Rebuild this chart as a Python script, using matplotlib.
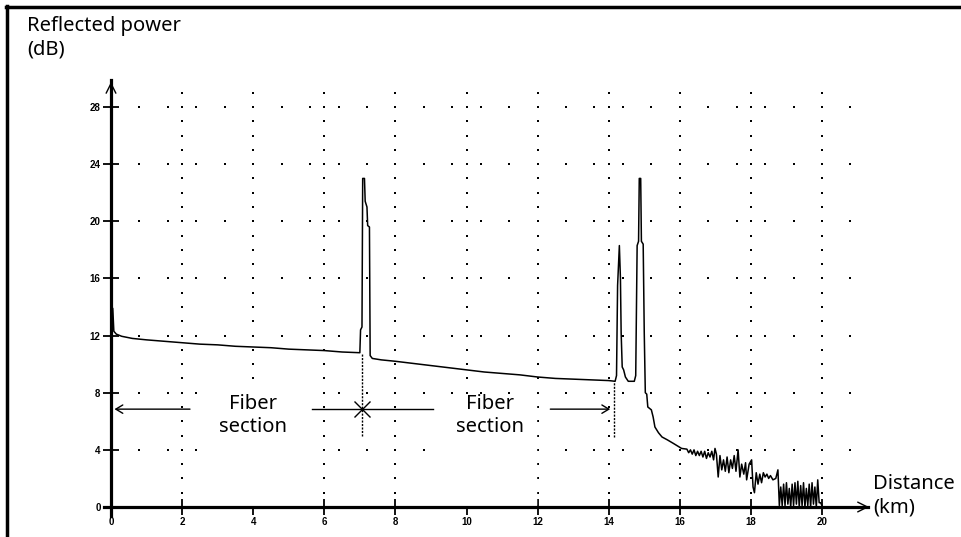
import numpy as np
import matplotlib
matplotlib.use('Agg')
import matplotlib.pyplot as plt
from matplotlib.lines import Line2D
from matplotlib.patches import Rectangle

# OTDR trace (km, dB)
dist = [0.0, 0.01, 0.05, 0.08, 0.15, 0.3, 0.6, 1.0, 1.5, 2.0, 2.5, 3.0, 3.5, 4.0, 4.5,
        5.0, 5.5, 6.0, 6.5, 6.95, 7.0,
        7.02, 7.06, 7.08, 7.13, 7.15, 7.2, 7.22, 7.27, 7.29, 7.35, 7.6, 8.0, 8.5, 9.0,
        9.5, 10.0, 10.5, 11.0, 11.5, 12.0, 12.5, 13.0, 13.5, 14.0, 14.18,
        14.22, 14.25, 14.3, 14.33, 14.35, 14.38, 14.42, 14.47, 14.55, 14.72, 14.76,
        14.8, 14.84, 14.86, 14.9, 14.92, 14.97, 15.0, 15.03,
        15.07, 15.1, 15.2, 15.25, 15.3, 15.4, 15.5, 15.65, 15.82, 16.05, 16.2, 16.25,
        16.3, 16.35, 16.4, 16.45, 16.5, 16.55, 16.6, 16.65, 16.7, 16.75, 16.8, 16.85,
        16.9, 16.95, 16.99, 17.03, 17.08, 17.13, 17.18, 17.23, 17.28, 17.33, 17.38,
        17.43, 17.48, 17.53, 17.58, 17.64, 17.69, 17.74, 17.8, 17.85, 17.88, 17.95,
        18.02, 18.06, 18.1, 18.15, 18.2, 18.25, 18.3, 18.35, 18.4, 18.45, 18.5, 18.55,
        18.62, 18.7, 18.76, 18.8, 18.84, 18.88, 18.92, 18.96, 19.0, 19.04, 19.08,
        19.12, 19.16, 19.2, 19.24, 19.28, 19.32, 19.36, 19.4, 19.44, 19.48, 19.52,
        19.56, 19.6, 19.64, 19.68, 19.72, 19.76, 19.8, 19.84, 19.88, 19.92, 19.96, 20.0]
power = [18.7, 14.0, 13.9, 12.3, 12.1, 11.95, 11.8, 11.7, 11.6, 11.5, 11.4, 11.35, 11.25, 11.2, 11.15,
         11.05, 11.0, 10.95, 10.85, 10.8, 10.8,
         12.4, 12.6, 23.0, 23.0, 21.4, 21.0, 19.7, 19.6, 10.6, 10.4, 10.3, 10.2, 10.05, 9.9,
         9.75, 9.6, 9.45, 9.35, 9.25, 9.1, 9.0, 8.95, 8.9, 8.85, 8.8,
         9.2, 15.5, 18.3, 16.0, 12.2, 9.8, 9.6, 9.1, 8.8, 8.8, 9.2,
         18.3, 18.6, 23.0, 23.0, 18.6, 18.4, 12.2, 8.0,
         7.9, 7.0, 6.8, 6.3, 5.6, 5.2, 4.9, 4.7, 4.45, 4.1, 4.05, 3.8,
         4.0, 3.7, 4.0, 3.6, 3.9, 3.6, 3.9, 3.5, 3.9, 3.4, 3.8, 3.5,
         3.9, 3.3, 4.1, 3.7, 2.1, 3.6, 2.6, 3.3, 2.5, 3.5, 2.4,
         3.3, 2.7, 3.6, 2.5, 4.0, 2.1, 3.0, 2.3, 3.1, 1.9, 3.0,
         3.3, 1.4, 1.0, 2.4, 1.6, 2.3, 1.7, 2.4, 2.1, 2.3, 2.0, 2.2,
         1.9, 2.0, 2.6, 0.1, 1.4, 0.1, 1.6, 0.1, 1.7, 0.2, 1.3,
         0.0, 1.6, 0.1, 1.7, 0.2, 1.8, 0.0, 1.5, 0.1, 1.7, 0.0,
         1.3, 0.1, 1.6, 0.0, 1.7, 0.2, 1.4, 0.0, 1.9, 0.3, 0.3, 0.1]

xticks = [0, 2, 4, 6, 8, 10, 12, 14, 16, 18, 20]
yticks = [0, 4, 8, 12, 16, 20, 24, 28]
section_label = 'Fiber\nsection'
event_1 = 7.05
event_2 = 14.15

W, H = 962, 537
fig = plt.figure(figsize=(W / 100, H / 100), dpi=100)
ax = fig.add_axes([111 / W, 30 / H, 711 / W, 400 / H])
ax.set_xlim(0, 20)
ax.set_ylim(0, 28)
for s in ax.spines.values():
    s.set_visible(False)

# dotted grid
gx, gy = np.meshgrid(np.arange(2, 21, 2), np.arange(0, 30, 1))
ax.scatter(gx.ravel(), gy.ravel(), s=2.2, marker='s', color='black', lw=0, clip_on=False, zorder=1)
hx, hy = np.meshgrid(np.arange(0.8, 21.0, 0.8), np.arange(4, 29, 4))
ax.scatter(hx.ravel(), hy.ravel(), s=2.2, marker='s', color='black', lw=0, clip_on=False, zorder=1)

# white areas behind the labels
ax.add_patch(Rectangle((2.5, 0.15), 3.1, 8.2, color='white', zorder=2))
ax.add_patch(Rectangle((9.1, 0.15), 2.85, 7.6, color='white', zorder=2))

# axes with open arrow heads
ax.plot([0, 0], [-0.6, 29.9], color='black', lw=2.3, clip_on=False, zorder=5)
ax.plot([-0.2, 21.3], [0, 0], color='black', lw=2.3, clip_on=False, zorder=5)
ax.annotate('', xy=(0, 29.95), xytext=(0, 28.5),
            arrowprops=dict(arrowstyle='->,head_length=0.7,head_width=0.35', lw=1, color='black'),
            annotation_clip=False, zorder=5)
ax.annotate('', xy=(21.4, 0), xytext=(20.5, 0),
            arrowprops=dict(arrowstyle='->,head_length=0.7,head_width=0.35', lw=1, color='black'),
            annotation_clip=False, zorder=5)

ax.set_xticks(xticks)
ax.set_yticks(yticks)
ax.tick_params(direction='inout', length=11, width=1.3, labelsize=7, pad=2)
for lab in ax.get_xticklabels() + ax.get_yticklabels():
    lab.set_family('Liberation Sans')
    lab.set_fontweight('bold')

# trace
ax.plot(dist, power, color='black', lw=1.1, zorder=4, clip_on=False)

# section markers
ax.plot([event_1, event_1], [5.0, 10.8], color='black', lw=1, ls=(0, (1.5, 1)), zorder=4)
ax.plot([event_2, event_2], [4.9, 8.8], color='black', lw=1, ls=(0, (1.5, 1)), zorder=4)
ax.annotate('', xy=(0.02, 6.85), xytext=(2.3, 6.85),
            arrowprops=dict(arrowstyle='->,head_length=0.5,head_width=0.3', lw=1, color='black'), zorder=4)
ax.plot([5.65, 9.05], [6.85, 6.85], color='black', lw=1, zorder=4)
ax.plot([event_1], [6.85], marker='x', ms=12, mew=1, color='black', zorder=4)
ax.annotate('', xy=(event_2 - 0.03, 6.85), xytext=(12.28, 6.85),
            arrowprops=dict(arrowstyle='->,head_length=0.5,head_width=0.3', lw=1, color='black'), zorder=4)

tfont = dict(family=['Noto Sans', 'DejaVu Sans'], fontsize=14.5, color='black')
ax.text(4.0, 6.4, section_label, ha='center', va='center', linespacing=1.25, zorder=6, **tfont)
ax.text(10.65, 6.4, section_label, ha='center', va='center', linespacing=1.25, zorder=6, **tfont)

fig.text(27 / W, 1 - 16 / H, 'Reflected power\n(dB)', ha='left', va='top', linespacing=1.25, **tfont)
fig.text(873 / W, 1 - 474 / H, 'Distance\n(km)', ha='left', va='top', linespacing=1.25, **tfont)

# frame of the figure box
fig.add_artist(Line2D([7 / W, 7 / W], [0, 1 - 6 / H], color='black', lw=2.5))
fig.add_artist(Line2D([6 / W, 1], [1 - 7 / H, 1 - 7 / H], color='black', lw=2.5))

plt.savefig('out.png', dpi=100)
